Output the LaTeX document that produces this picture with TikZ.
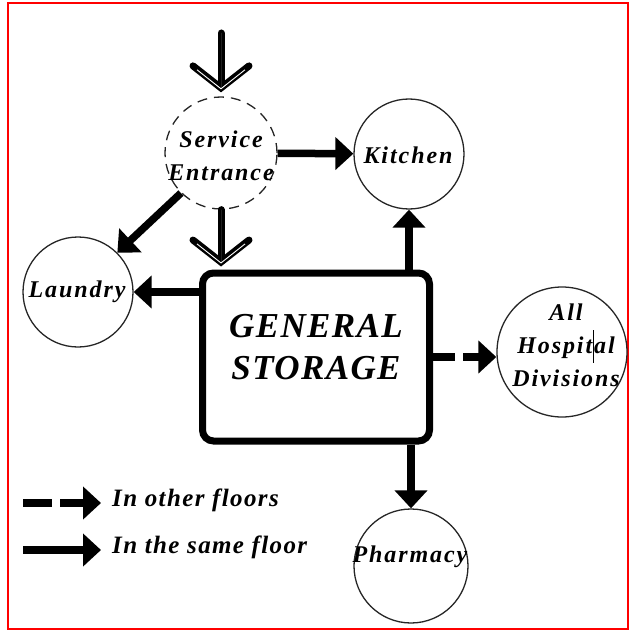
\documentclass[tikz,border=0pt]{standalone}
\usepackage{fontspec}
\setmainfont{Liberation Serif}
\newfontfamily\placefont[LetterSpace=8]{Liberation Serif}
\newfontfamily\storefont[LetterSpace=4]{Liberation Serif}
\newfontfamily\legendfont[LetterSpace=5.5]{Liberation Serif}
\usetikzlibrary{arrows.meta}

\begin{document}
\begin{tikzpicture}[x=1pt,y=-1pt,
  place/.style={circle, draw=black!85, line width=1.3pt, inner sep=0pt},
  placetext/.style={align=center, inner sep=0pt,
    font=\placefont\bfseries\itshape\fontsize{24}{33}\selectfont},
  storebox/.style={draw, line width=7pt, rounded corners=11pt,
    minimum width=227pt, minimum height=168pt, inner sep=0pt},
  flow/.style={line width=7.5pt, -{Triangle[length=18pt,width=32pt]}},
  otherfloor/.style={flow, dash pattern=on 22pt off 8pt},
  feed/.style={line width=7pt, line cap=round,
    -{Straight Barb[length=22pt,width=56pt,line cap=round]}},
  feedline/.style={white, line width=0.01pt,
    -{Straight Barb[length=19pt,width=48pt,line width=0.9pt]}},
  legendtext/.style={anchor=west, inner sep=0pt,
    font=\legendfont\bfseries\itshape\fontsize{25}{30}\selectfont}
]
\useasboundingbox (0,0) rectangle (629,631);
\draw[red, line width=2pt] (8,3) rectangle (628,629);

% places
\node[place, dashed, dash pattern=on 10pt off 7pt, minimum size=112pt] (svc) at (221,153) {};
\node[place, minimum size=110pt] (kit) at (409,154) {};
\node[place, minimum size=110pt] (laun) at (78,292) {};
\node[place, minimum size=130pt] (hosp) at (562,352) {};
\node[place, minimum size=114pt] (pharm) at (411,566) {};

\node[placetext] (svct) at (221,156) {Service\\Entrance};
\node[placetext] (kitt) at (408,155) {Kitchen};
\node[placetext] (launt) at (77,292) {Laundry};
\node[placetext] (hospt) at (566,345) {All\\Hospital\\Divisions};
\node[placetext] (pharmt) at (410,557) {Pharmacy};
\draw[line width=0.8pt] (hospt.center) ++(27,-15) -- ++(0,33);

% general storage
\node[storebox] (store) at (316,357) {};
\node[align=center, inner sep=0pt, font=\storefont\bfseries\itshape\fontsize{35}{42}\selectfont]
  (storet) at (316,347) {GENERAL\\STORAGE};

% supply arriving and leaving the service entrance
\coordinate (supply) at (221,33);
\draw[feed, shorten >=4pt] (supply) -- (svc.north);
\draw[feedline, shorten >=7pt] (supply) -- (svc.north);
\draw[feed, shorten >=3pt] (svc.south) -- (svc.south |- store.north);
\draw[feedline, shorten >=6pt] (svc.south) -- (svc.south |- store.north);
\draw[flow] (svc) -- (kit);
\draw[flow] (svc.south west) -- (laun.north east);

% distribution from general storage
\draw[flow] (store.west |- laun.east) -- (laun.east);
\draw[flow] (kit.south |- store.north) -- (kit.south);
\draw[flow] (pharm.north |- store.south) -- (pharm.north);
\draw[otherfloor] (store.east) -- (store.east -| hosp.west);

% legend
\coordinate (la0) at (23,503);
\coordinate (la1) at (101,503);
\coordinate (lb0) at (23,550);
\coordinate (lb1) at (101,550);
\draw[otherfloor, dash pattern=on 29pt off 8pt] (la0) -- (la1);
\draw[flow] (lb0) -- (lb1);
\node[legendtext] (lta) at (112,500) {In other floors};
\node[legendtext] (ltb) at (112,547) {In the same floor};
\end{tikzpicture}
\end{document}
